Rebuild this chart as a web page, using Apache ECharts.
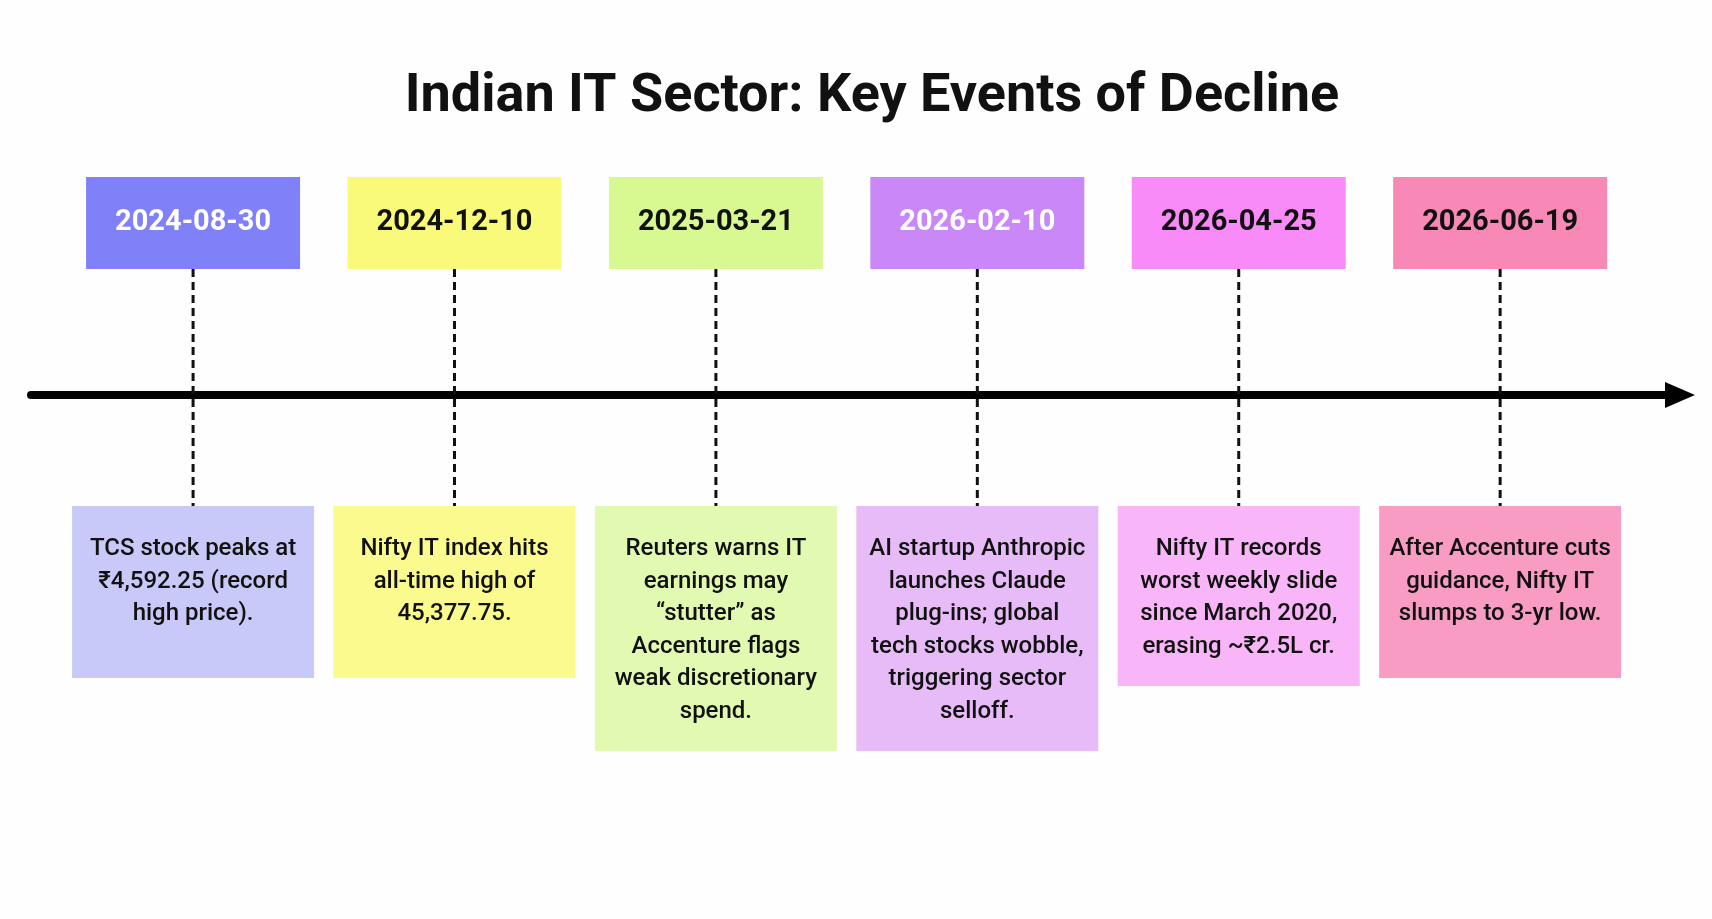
<!DOCTYPE html>
<html lang="en">
	<head>
		<meta charset="UTF-8" />
		<title>Indian IT Sector: Key Events of Decline</title>
		<script src="https://cdn.jsdelivr.net/npm/echarts@6/dist/echarts.min.js"></script>
		<style>
			* {
				margin: 0;
				padding: 0;
			}
			html,
			body {
				height: 100%;
				background: #fefefe;
			}
		</style>
	</head>
	<body>
		<div id="main" style="height:100%;width:100%;"></div>

		<script type="text/javascript">
			// 事件数据
			var eventIndex = [0, 1, 2, 3, 4, 5];
			var eventDates = ["2024-08-30", "2024-12-10", "2025-03-21", "2026-02-10", "2026-04-25", "2026-06-19"];
			var eventTexts = [
				"TCS stock peaks at\n₹4,592.25 (record\nhigh price).",
				"Nifty IT index hits\nall-time high of\n45,377.75.",
				"Reuters warns IT\nearnings may\n“stutter” as\nAccenture flags\nweak discretionary\nspend.",
				"AI startup Anthropic\nlaunches Claude\nplug-ins; global\ntech stocks wobble,\ntriggering sector\nselloff.",
				"Nifty IT records\nworst weekly slide\nsince March 2020,\nerasing ~₹2.5L cr.",
				"After Accenture cuts\nguidance, Nifty IT\nslumps to 3-yr low."
			];

			// 颜色
			var dateColors = ["#8080f8", "#fafa7a", "#d8f891", "#c987f8", "#f88bf8", "#f889b6"];
			var dateTextColors = ["#ffffff", "#111111", "#111111", "#ffffff", "#111111", "#111111"];
			var noteColors = ["#c9c9f9", "#fafa8e", "#e2f9b2", "#e6bbf8", "#f8b6f8", "#f89cc4"];

			var FONT = "Roboto, 'Noto Sans', 'DejaVu Sans', sans-serif";

			function renderEvent(params, api) {
				var i = api.value(0);
				var pt = api.coord([i, 0]);
				var x = pt[0];
				var axisY = pt[1];
				var lines = eventTexts[i].split("\n").length;
				var boxW = 214;
				var noteW = 242;
				var noteTop = axisY + 111;
				var noteH = Math.max(172, lines * 32.5 + 50);
				return {
					type: "group",
					children: [
						{
							type: "line",
							shape: { x1: x, y1: axisY - 126, x2: x, y2: noteTop },
							style: { stroke: "#111", lineWidth: 3, lineDash: [8, 5] }
						},
						{
							type: "rect",
							shape: { x: x - boxW / 2, y: axisY - 218, width: boxW, height: 92 },
							style: { fill: dateColors[i] }
						},
						{
							type: "text",
							style: {
								text: eventDates[i],
								x: x,
								y: axisY - 172,
								align: "center",
								verticalAlign: "middle",
								fontFamily: FONT,
								fontWeight: "bold",
								fontSize: 29,
								fill: dateTextColors[i]
							}
						},
						{
							type: "rect",
							shape: { x: x - noteW / 2, y: noteTop, width: noteW, height: noteH },
							style: { fill: noteColors[i] }
						},
						{
							type: "text",
							style: {
								text: eventTexts[i],
								x: x,
								y: noteTop + 27,
								align: "center",
								verticalAlign: "top",
								fontFamily: FONT,
								fontWeight: 500,
								fontSize: 24,
								lineHeight: 32.5,
								fill: "#111111"
							}
						}
					]
				};
			}

			var option = {
				backgroundColor: "#fefefe",
				animation: false,
				title: {
					text: "Indian IT Sector: Key Events of Decline",
					left: 867,
					top: 65,
					textAlign: "center",
					textStyle: {
						fontFamily: FONT,
						fontWeight: "bold",
						fontSize: 54,
						color: "#111111"
					}
				},
				grid: {
					left: 31,
					right: 32,
					top: 160,
					bottom: 524
				},
				xAxis: {
					type: "value",
					min: -0.62,
					max: 5.688,
					axisLabel: { show: false },
					axisTick: { show: false },
					splitLine: { show: false },
					axisLine: {
						show: true,
						symbol: ["none", "triangle"],
						symbolSize: [26, 30],
						lineStyle: { color: "#000", width: 8 }
					}
				},
				yAxis: {
					type: "value",
					min: 0,
					max: 1,
					show: false
				},
				series: [
					{
						type: "custom",
						clip: false,
						renderItem: renderEvent,
						data: eventIndex.map(function(i) {
							return [i, 0];
						})
					}
				]
			};

			var myChart = echarts.init(document.getElementById("main"));
			myChart.setOption(option);
		</script>
	</body>
</html>
